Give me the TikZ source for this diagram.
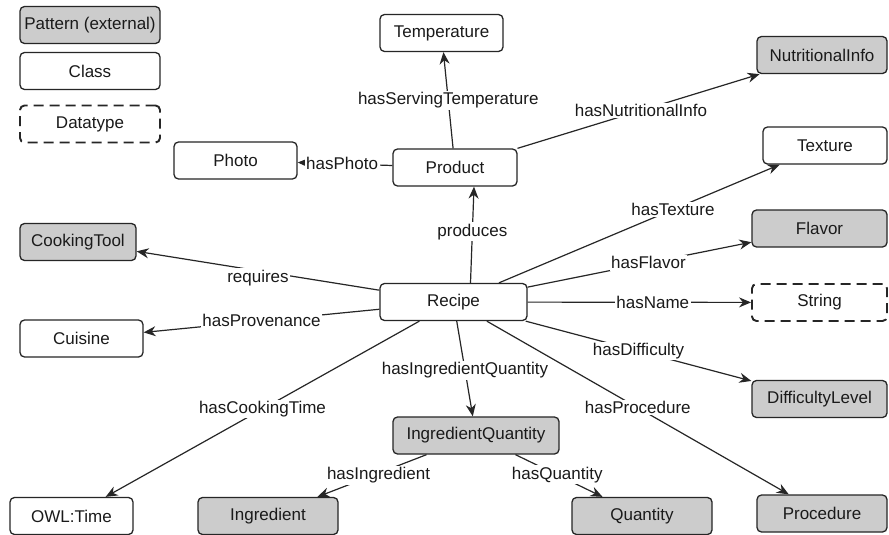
\documentclass[tikz,border=0pt]{standalone}
\usepackage{fontspec}
\setmainfont{Liberation Sans}
\usetikzlibrary{arrows.meta,calc}
\definecolor{pat}{HTML}{CCCCCC}
\definecolor{ln}{HTML}{262626}
\definecolor{tx}{HTML}{1A1A1A}
\begin{document}
\begin{tikzpicture}[x=1pt,y=-1pt,
  font=\fontsize{17}{20}\selectfont,
  box/.style={draw=ln, line width=1.3pt, rounded corners=4.5pt, minimum height=37pt, inner sep=0pt, text=tx},
  ext/.style={box, fill=pat},
  cls/.style={box, fill=white},
  dtype/.style={box, dash pattern=on 10pt off 6pt, line width=1.9pt, fill=white},
  conn/.style={draw=ln, line width=1.2pt, -{Stealth[length=12pt,width=10pt]}},
  lbl/.style={fill=white, inner sep=1.5pt, text=tx}
]
\useasboundingbox[fill=white] (0,0) rectangle (889,535);

% legend
\node[ext, minimum width=140pt] (legpat) at (90,25) {Pattern (external)};
\node[cls, minimum width=140pt] (legcls) at (90,71) {Class};
\node[dtype, minimum width=140pt] (legdt) at (90,124) {Datatype};

% nodes
\node[cls, minimum width=123pt] (temperature) at (441.5,33) {Temperature};
\node[cls, minimum width=123pt] (photo) at (235.5,160.5) {Photo};
\node[cls, minimum width=124pt] (product) at (455,167.5) {Product};
\node[ext, minimum width=130pt] (nutri) at (822,55) {NutritionalInfo};
\node[cls, minimum width=124pt] (texture) at (825,145.5) {Texture};
\node[ext, minimum width=135pt] (flavor) at (819.5,228.5) {Flavor};
\node[dtype, minimum width=135pt] (string) at (819.5,302.5) {String};
\node[ext, minimum width=135pt] (difficulty) at (819.5,399) {DifficultyLevel};
\node[ext, minimum width=130pt] (procedure) at (822,513.5) {Procedure};
\node[cls, minimum width=147pt] (recipe) at (453.5,302) {Recipe};
\node[ext, minimum width=116pt] (tool) at (78,242) {CookingTool};
\node[cls, minimum width=123pt] (cuisine) at (81.5,338.5) {Cuisine};
\node[cls, minimum width=123pt] (owltime) at (71.5,516) {OWL:Time};
\node[ext, minimum width=140pt] (ingredient) at (268,516) {Ingredient};
\node[ext, minimum width=166pt] (iq) at (476,435.5) {IngredientQuantity};
\node[ext, minimum width=140pt] (quantity) at (642,516) {Quantity};

% connectors
\draw[conn] (product) -- node[lbl,pos=0.5]{hasServingTemperature} (temperature);
\draw[conn] (product) -- node[lbl,pos=0.53]{hasPhoto} (photo);
\draw[conn] (product) -- node[lbl,pos=0.51]{hasNutritionalInfo} (nutri);
\draw[conn] ($(recipe.north)+(17,0)$) -- node[lbl,pos=0.53]{produces} ($(product.south)+(19,0)$);
\draw[conn] (recipe) -- node[lbl,pos=0.62]{hasTexture} (texture);
\draw[conn] (recipe) -- node[lbl,pos=0.54]{hasFlavor} (flavor);
\draw[conn] (recipe) -- node[lbl,pos=0.56]{hasName} (string);
\draw[conn] (recipe) -- node[lbl,pos=0.5]{hasDifficulty} (difficulty);
\draw[conn] (recipe) -- node[lbl,pos=0.5]{hasProcedure} (procedure);
\draw[conn] (recipe) -- node[lbl,pos=0.515]{hasIngredientQuantity} (iq);
\draw[conn] (recipe) -- node[lbl,pos=0.5]{hasCookingTime} (owltime);
\draw[conn] (recipe) -- node[lbl,pos=0.5]{hasProvenance} (cuisine);
\draw[conn] (recipe) -- node[lbl,pos=0.5,yshift=-7pt]{requires} (tool);
\draw[conn] (iq) -- node[lbl,pos=0.44,yshift=-2pt]{hasIngredient} (ingredient);
\draw[conn] (iq) -- node[lbl,pos=0.48]{hasQuantity} (quantity);
\end{tikzpicture}
\end{document}
